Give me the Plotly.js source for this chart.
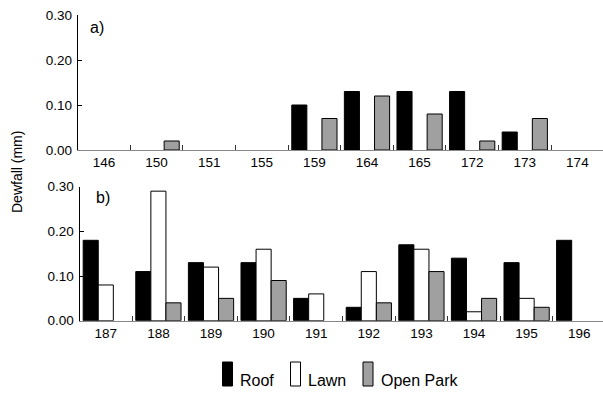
<!DOCTYPE html>
<html>
<head>
<meta charset="utf-8">
<script src="https://cdn.plot.ly/plotly-3.0.1.min.js"></script>
<style>html,body{margin:0;padding:0;background:#fff;}#chart{width:603px;height:394px;}</style>
</head>
<body>
<div id="chart"></div>
<script>
// ---- data ----
const seriesNames = ['Roof', 'Lawn', 'Open Park'];
const seriesColors = ['#000000', '#ffffff', '#a0a0a0'];

const daysA = ['146','150','151','155','159','164','165','172','173','174'];
const roofA = [null, null, null, null, 0.10, 0.13, 0.13, 0.13, 0.04, null];
const lawnA = [null, null, null, null, null, null, null, null, null, null];
const parkA = [null, 0.02, null, null, 0.07, 0.12, 0.08, 0.02, 0.07, null];

const daysB = ['187','188','189','190','191','192','193','194','195','196'];
const roofB = [0.18, 0.11, 0.13, 0.13, 0.05, 0.03, 0.17, 0.14, 0.13, 0.18];
const lawnB = [0.08, 0.29, 0.12, 0.16, 0.06, 0.11, 0.16, 0.02, 0.05, null];
const parkB = [null, 0.04, 0.05, 0.09, null, 0.04, 0.11, 0.05, 0.03, null];

const yTickVals = [0, 0.1, 0.2, 0.3];
const panelLabels = ['a)', 'b)'];
const yTitle = 'Dewfall (mm)';

// ---- geometry helpers (pixels -> paper) ----
const W = 603, H = 394;
const px = x => x / W;
const py = y => 1 - y / H;
const FONT = 'Arial, "Liberation Sans", sans-serif';

const seriesA = [roofA, lawnA, parkA];
const seriesB = [roofB, lawnB, parkB];

const traces = [];
seriesA.forEach((vals, i) => traces.push({
  type: 'bar', x: daysA, y: vals, xaxis: 'x', yaxis: 'y', name: seriesNames[i],
  marker: {color: seriesColors[i], line: {color: '#000', width: 1}}, showlegend: false
}));
seriesB.forEach((vals, i) => traces.push({
  type: 'bar', x: daysB, y: vals, xaxis: 'x2', yaxis: 'y2', name: seriesNames[i],
  marker: {color: seriesColors[i], line: {color: '#000', width: 1}}, showlegend: false
}));

function xAxis(domainStart, rng, anchor) {
  return {
    type: 'category', domain: [domainStart, 1], range: rng, anchor: anchor,
    showline: true, linecolor: '#888', linewidth: 1,
    ticks: 'inside', tickson: 'boundaries', ticklen: 5, tickcolor: '#333', tickwidth: 1,
    showgrid: false, zeroline: false, fixedrange: true,
    tickfont: {family: FONT, size: 13.5, color: '#000'}
  };
}
function yAxis(dom, anchor) {
  return {
    domain: dom, range: [0, 0.3], anchor: anchor,
    tickvals: yTickVals, tickformat: '.2f',
    showline: true, linecolor: '#000', linewidth: 1,
    ticks: 'inside', ticklen: 4, tickcolor: '#000',
    ticklabelstandoff: 2,
    showgrid: false, zeroline: false, fixedrange: true,
    tickfont: {family: FONT, size: 13.5, color: '#000'}
  };
}

const annotations = [
  {text: panelLabels[0], xref: 'paper', yref: 'paper', x: px(88), y: py(27), xanchor: 'left', yanchor: 'middle', showarrow: false, font: {family: FONT, size: 16, color: '#000'}},
  {text: panelLabels[1], xref: 'paper', yref: 'paper', x: px(94), y: py(198), xanchor: 'left', yanchor: 'middle', showarrow: false, font: {family: FONT, size: 16, color: '#000'}},
  {text: yTitle, xref: 'paper', yref: 'paper', x: px(17), y: py(172), xanchor: 'center', yanchor: 'middle', textangle: -90, showarrow: false, font: {family: FONT, size: 14, color: '#000'}}
];

// custom legend (tall narrow swatches)
const legendSwatchX = [222.5, 290.5, 363];
const legendTextX = [238, 306, 379];
const shapes = [];
seriesNames.forEach((n, i) => {
  shapes.push({type: 'rect', xref: 'paper', yref: 'paper',
    x0: px(legendSwatchX[i]), x1: px(legendSwatchX[i] + 10), y0: py(386), y1: py(362),
    fillcolor: seriesColors[i], line: {color: '#000', width: 1}});
  annotations.push({text: n, xref: 'paper', yref: 'paper', x: px(legendTextX[i]), y: py(380),
    xanchor: 'left', yanchor: 'middle', showarrow: false, font: {family: FONT, size: 16, color: '#000'}});
});

const layout = {
  width: W, height: H,
  margin: {l: 0, r: 0, t: 0, b: 0},
  paper_bgcolor: '#fff', plot_bgcolor: '#fff',
  barmode: 'group', bargap: 0.14, bargroupgap: 0,
  showlegend: false,
  xaxis: xAxis(px(77.7), [-0.5, 9.487], 'y'),
  yaxis: yAxis([py(150), py(15)], 'x'),
  xaxis2: xAxis(px(79.5), [-0.5, 9.452], 'y2'),
  yaxis2: yAxis([py(320.7), py(186.7)], 'x2'),
  annotations: annotations,
  shapes: shapes,
  font: {family: FONT, color: '#000'}
};

Plotly.newPlot('chart', traces, layout, {displayModeBar: false, staticPlot: true});
</script>
</body>
</html>
